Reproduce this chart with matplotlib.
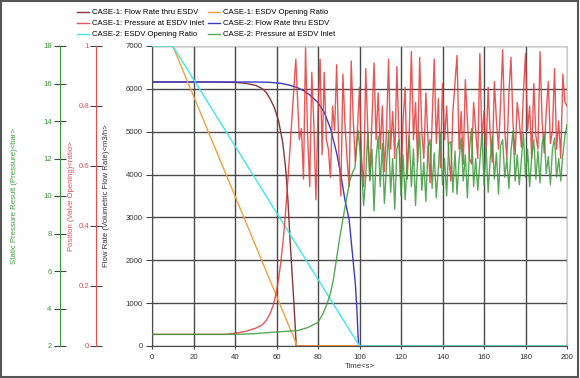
import matplotlib
matplotlib.use("Agg")
import matplotlib.pyplot as plt
from matplotlib.patches import Rectangle
from matplotlib.ticker import FormatStrFormatter

plt.rcParams['font.family'] = ['Liberation Sans', 'DejaVu Sans']

# ---------------- data ----------------
# CASE-1 flow rate thru ESDV [m3/h]
t_flow1 = [0, 30, 40, 45, 50, 53, 55, 57, 59, 61, 63, 64.5, 65.5, 66.5, 67.5, 68.5, 69.2, 69.5, 200]
flow1 = [6160, 6160, 6150, 6130, 6080, 6010, 5920, 5760, 5560, 5250, 4750, 4100, 3400, 2500, 1700, 900, 300, 0, 0]

# CASE-2 flow rate thru ESDV [m3/h]
t_flow2 = [0, 50, 56, 62, 66, 70, 73, 76, 80, 83, 86, 89, 91, 93, 95, 96.5, 98, 98.8, 99.3, 99.6, 200]
flow2 = [6160, 6160, 6155, 6130, 6090, 6030, 5960, 5860, 5680, 5450, 5080, 4500, 4000, 3400, 2950, 2200, 1450, 800, 250, 0, 0]

# ESDV opening ratios [-]
t_open1 = [0, 10, 70, 200]
open1 = [1, 1, 0, 0]
t_open2 = [0, 10, 100, 200]
open2 = [1, 1, 0, 0]

# CASE-1 pressure at ESDV inlet [bar]
t_press1 = [0, 35, 40, 45, 50, 53, 55, 57, 58.5, 60, 61, 62, 63, 64, 65, 66, 67, 68, 69.3] + list(range(70, 201))
press1 = [2.62, 2.62, 2.68, 2.78, 2.95, 3.12, 3.35, 3.75, 4.2, 4.9, 5.6, 6.4, 7.4, 8.6, 10.1, 11.7, 13.4, 15.1, 17.3,
          15.5, 13.0, 13.6, 10.9, 17.9, 13.2, 10.5, 16.6, 13.8, 9.8,
          14.5, 17.3, 12.2, 16.6, 13.0, 12.5, 11.0, 14.8, 13.5, 17.0,
          12.5, 10.0, 16.5, 13.8, 12.0, 10.5, 17.2, 14.0, 11.8, 13.5,
          15.8, 12.0, 10.5, 16.8, 13.5, 10.9, 14.0, 17.1, 13.0, 15.5,
          12.5, 14.8, 11.3, 13.5, 17.3, 12.5, 14.5, 12.0, 16.9, 13.2,
          10.6, 14.0, 15.8, 10.9, 13.5, 17.7, 13.0, 15.0, 11.8, 17.4,
          13.5, 12.0, 15.5, 13.0, 10.7, 14.0, 17.3, 12.8, 15.2, 11.5,
          16.0, 13.0, 14.8, 12.2, 10.8, 14.5, 16.0, 17.5, 12.5, 14.5,
          11.7, 16.2, 14.0, 12.0, 11.7, 15.0, 13.5, 12.0, 17.6, 13.0,
          14.5, 12.4, 15.8, 13.2, 11.8, 16.1, 14.0, 12.5, 15.0, 17.8,
          13.5, 12.0, 15.5, 17.4, 13.8, 12.2, 15.0, 14.0, 12.6, 15.5,
          17.6, 13.5, 14.8, 12.0, 16.0, 13.2, 12.5, 17.7, 14.0, 12.3,
          14.5, 16.1, 12.8, 13.5, 16.8, 12.5, 14.0, 12.0, 16.5, 15.0,
          14.8]

# CASE-2 pressure at ESDV inlet [bar]
t_press2 = [0, 40, 50, 60, 70, 75, 80, 82.5, 84.4, 86, 87.5, 89, 90.5, 92.2, 94, 95.4, 96.8, 97.8, 99.3] + list(range(101, 201))
press2 = [2.62, 2.62, 2.66, 2.75, 2.82, 2.98, 3.26, 3.74, 4.27, 4.8, 5.6, 6.7, 7.8, 8.9, 10.0, 10.85, 11.3, 11.5, 13.5,
          11.5, 9.5, 11.0, 13.4, 10.8, 12.5, 9.2, 12.0, 13.2,
          10.5, 12.8, 9.6, 11.5, 13.5, 10.2, 12.0, 9.3, 12.5, 13.0,
          10.0, 12.2, 9.8, 11.8, 13.2, 10.5, 12.5, 9.5, 12.0, 13.4,
          10.3, 11.8, 9.7, 12.6, 13.0, 10.4, 12.3, 9.9, 11.5, 13.3,
          10.6, 12.0, 10.0, 12.8, 12.9, 10.2, 12.4, 10.1, 11.9, 13.1,
          10.8, 12.2, 9.9, 12.5, 13.6, 10.5, 12.0, 10.3, 11.8, 13.4,
          10.6, 12.6, 10.2, 12.0, 13.2, 10.9, 12.3, 10.1, 12.7, 13.0,
          11.0, 12.0, 10.4, 12.4, 13.5, 10.8, 12.2, 10.6, 11.9, 13.3,
          11.0, 12.5, 10.5, 12.1, 13.0, 10.9, 12.4, 10.7, 12.8, 13.3,
          11.2, 12.1, 10.6, 12.5, 13.1, 11.0, 12.0, 10.8, 12.2, 13.2,
          13.8]

time_ticks = list(range(0, 201, 20))
flow_ticks = list(range(0, 7001, 1000))
ratio_ticks = [0, 0.2, 0.4, 0.6, 0.8, 1]
press_ticks = list(range(2, 19, 2))

labels = ["CASE-1: Flow Rate thru ESDV", "CASE-1: ESDV Opening Ratio",
          "CASE-1: Pressure at ESDV Inlet", "CASE-2: Flow Rate thru ESDV",
          "CASE-2: ESDV Opening Ratio", "CASE-2: Pressure at ESDV Inlet"]

# ---------------- styling ----------------
c_brown = '#8b3535'
c_orange = '#f0a040'
c_red = '#e43a3a'
c_blue = '#3b3bc4'
c_cyan = '#40e6e6'
c_green = '#3a9a3a'
c_ratio_ax = '#e05050'
c_press_ax = '#3a9a3a'
fs = 5.6

fig = plt.figure(figsize=(5.8, 3.78), dpi=100)
W, H = 580, 378
x0, x1, y0, y1 = 152, 567, 46, 346
ax = fig.add_axes([x0 / W, 1 - y1 / H, (x1 - x0) / W, (y1 - y0) / H])

ax_r = ax.twinx()
ax_p = ax.twinx()

# flow axis (main)
ax.set_xlim(0, 200)
ax.set_ylim(0, 7000)
ax.set_xticks(time_ticks)
ax.set_yticks(flow_ticks)
ax.grid(True, color='#4a4a4a', lw=1.0)
ax.set_axisbelow(True)
for s in ['top', 'right']:
    ax.spines[s].set_color('#cccccc')
ax.spines['left'].set_color('#4a4a4a')
ax.spines['bottom'].set_color('#4a4a4a')
ax.tick_params(axis='y', direction='out', length=4, color='#444444', labelsize=fs, labelcolor='#333333', pad=2.5)
ax.tick_params(axis='x', direction='inout', length=5, color='#444444', labelsize=fs, labelcolor='#333333', pad=3)
ax.set_xlabel('Time<s>', fontsize=fs, color='#333333', labelpad=2)
ax.set_ylabel('Flow Rate (Volumetric Flow Rate)<m3/h>', fontsize=fs, color='#333333')
ax.yaxis.set_label_coords((110 - x0) / (x1 - x0), 0.5)

# ratio axis
ax_r.set_ylim(0, 1)
ax_r.set_yticks(ratio_ticks)
ax_r.yaxis.set_major_formatter(FormatStrFormatter('%g'))
ax_r.yaxis.set_ticks_position('left')
ax_r.yaxis.set_label_position('left')
ax_r.spines['left'].set_position(('axes', (96 - x0) / (x1 - x0)))
ax_r.spines['left'].set_visible(True)
ax_r.spines['left'].set_color(c_ratio_ax)
for s in ['top', 'right', 'bottom']:
    ax_r.spines[s].set_visible(False)
ax_r.tick_params(axis='y', direction='inout', length=8, color='#444444', labelsize=fs, labelcolor=c_ratio_ax, pad=1)
ax_r.set_ylabel('Position (Valve Opening)<ratio>', fontsize=fs, color=c_ratio_ax)
ax_r.yaxis.set_label_coords((75 - x0) / (x1 - x0), 0.5)

# pressure axis
ax_p.set_ylim(2, 18)
ax_p.set_yticks(press_ticks)
ax_p.yaxis.set_ticks_position('left')
ax_p.yaxis.set_label_position('left')
ax_p.spines['left'].set_position(('axes', (60 - x0) / (x1 - x0)))
ax_p.spines['left'].set_visible(True)
ax_p.spines['left'].set_color(c_press_ax)
for s in ['top', 'right', 'bottom']:
    ax_p.spines[s].set_visible(False)
ax_p.tick_params(axis='y', direction='inout', length=9, color='#444444', labelsize=fs, labelcolor=c_press_ax, pad=1.5)
ax_p.set_ylabel('Static Pressure Result (Pressure)<bar>', fontsize=fs, color=c_press_ax)
ax_p.yaxis.set_label_coords((18 - x0) / (x1 - x0), 0.5)

# lines
lw = 1.0
h_f1, = ax.plot(t_flow1, flow1, color=c_brown, lw=lw)
h_f2, = ax.plot(t_flow2, flow2, color=c_blue, lw=lw)
h_o1, = ax_r.plot(t_open1, open1, color=c_orange, lw=lw)
h_o2, = ax_r.plot(t_open2, open2, color=c_cyan, lw=lw)
h_p1, = ax_p.plot(t_press1, press1, color=c_red, lw=lw, alpha=0.85)
h_p2, = ax_p.plot(t_press2, press2, color=c_green, lw=lw, alpha=0.85)

handles = [h_f1, h_p1, h_o2, h_o1, h_f2, h_p2]
leg_labels = [labels[0], labels[2], labels[4], labels[1], labels[3], labels[5]]
fig.legend(handles, leg_labels, ncol=2, loc='upper left', bbox_to_anchor=(77 / W, 1 - 9 / H),
           frameon=False, fontsize=fs, handlelength=1.5, handletextpad=0.45,
           columnspacing=0.5, labelspacing=0.45, borderaxespad=0, borderpad=0)

fig.add_artist(Rectangle((0.002, 0.003), 0.995, 0.994, transform=fig.transFigure,
                         fill=False, ec='#555555', lw=1.5))

fig.savefig('out.png', dpi=100)
